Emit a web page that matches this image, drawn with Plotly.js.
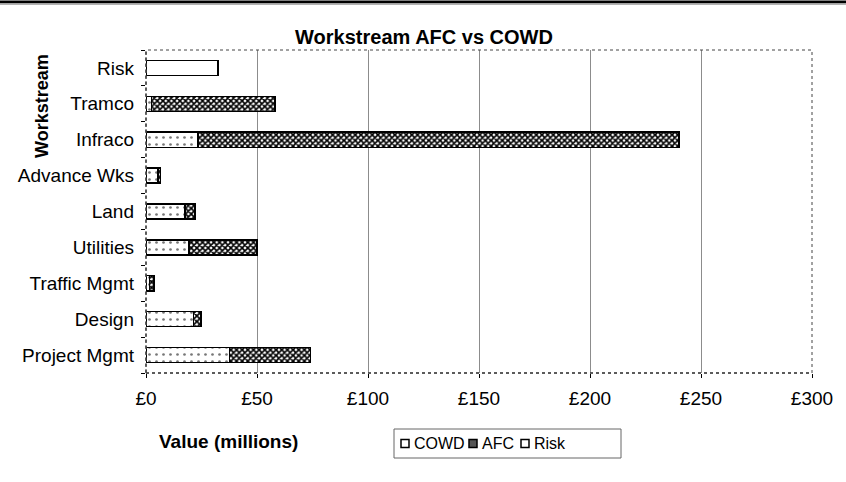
<!DOCTYPE html>
<html>
<head>
<meta charset="utf-8">
<script src="https://cdn.plot.ly/plotly-3.0.1.min.js"></script>
<style>html,body{margin:0;padding:0;background:#fff;}#chart{width:846px;height:482px;}</style>
</head>
<body>
<div id="chart"></div>
<script>
// Categories (bottom to top as drawn)
const categories = ["Project Mgmt", "Design", "Traffic Mgmt", "Utilities", "Land", "Advance Wks", "Infraco", "Tramco", "Risk"];
const cowd = [37.5, 21.3, 1.5, 19.4, 17.6, 5.5, 23.4, 2.5, 0];
const afc  = [36.5, 3.5, 2.0, 30.6, 4.4, 1.0, 216.6, 55.5, 0];
const risk = [0, 0, 0, 0, 0, 0, 0, 0, 32.4];
const seriesNames = ["COWD", "AFC", "Risk"];
const xTickVals = [0, 50, 100, 150, 200, 250, 300];
const xTickText = ["£0", "£50", "£100", "£150", "£200", "£250", "£300"];

const FONT = "Liberation Sans, Arial, Helvetica, sans-serif";
const line = {color: "#000", width: 1.5};

const traces = [
  {type: "bar", orientation: "h", name: seriesNames[0], y: categories, x: cowd,
   marker: {color: "#fff", line: line,
            pattern: {shape: ".", fgcolor: "#777", bgcolor: "#fff", size: 7, solidity: 0.12}}},
  {type: "bar", orientation: "h", name: seriesNames[1], y: categories, x: afc,
   marker: {color: "#fff", line: line,
            pattern: {shape: "x", fgcolor: "#000", bgcolor: "#fff", size: 4, solidity: 0.65}}},
  {type: "bar", orientation: "h", name: seriesNames[2], y: categories, x: risk,
   marker: {color: "#fff", line: line}}
];

// plot area in pixels: x 146..812, y 50..373
const PL = 146, PR = 812, PT = 50, PB = 373;
const px = v => (v - PL) / (PR - PL);
const py = v => (PB - v) / (PB - PT);

// manual legend
const legBox = {x0: 394, x1: 621, y0: 429, y1: 458};
const legItems = [
  {sx: 401, tx: 412, fill: "#fff"},
  {sx: 469, tx: 480, fill: "#555"},
  {sx: 521, tx: 532, fill: "#fff"}
];
const legCy = 443.5;

const shapes = [
  {type: "rect", xref: "paper", yref: "paper", x0: 0, x1: 1, y0: 0, y1: 1,
   line: {color: "#444", width: 1, dash: "dot"}, layer: "above"},
  {type: "line", xref: "paper", yref: "paper", x0: 0, x1: 1, y0: 0, y1: 0,
   line: {color: "#444", width: 1.5, dash: "dot"}, layer: "above"},
  {type: "line", xref: "paper", yref: "paper", x0: 0, x1: 0, y0: 0, y1: 1,
   line: {color: "#444", width: 1.5, dash: "dot"}, layer: "above"},
  {type: "rect", xref: "paper", yref: "paper", x0: px(0), x1: px(846),
   y0: py(3.3), y1: py(0.5), fillcolor: "#000", line: {width: 0}},
  {type: "rect", xref: "paper", yref: "paper", x0: px(0), x1: px(846),
   y0: py(4.8), y1: py(3.3), fillcolor: "#999", line: {width: 0}},
  {type: "rect", xref: "paper", yref: "paper", x0: px(legBox.x0), x1: px(legBox.x1),
   y0: py(legBox.y1), y1: py(legBox.y0), fillcolor: "#fff", line: {color: "#666", width: 1}}
];
const annotations = [
  {text: "<b>Workstream</b>", xref: "paper", yref: "paper",
   x: px(42), y: py(106), xanchor: "center", yanchor: "middle",
   textangle: -90, showarrow: false, font: {family: FONT, size: 18, color: "#000"}},
  {text: "<b>Value (millions)</b>", xref: "paper", yref: "paper",
   x: px(228), y: py(441), xanchor: "center", yanchor: "middle",
   showarrow: false, font: {family: FONT, size: 19, color: "#000"}}
];
legItems.forEach((it, i) => {
  shapes.push({type: "rect", xref: "paper", yref: "paper",
    x0: px(it.sx), x1: px(it.sx + 8), y0: py(legCy + 4), y1: py(legCy - 4),
    fillcolor: it.fill, line: {color: "#000", width: 1.5}});
  annotations.push({text: seriesNames[i], xref: "paper", yref: "paper",
    x: px(it.tx), y: py(legCy), xanchor: "left", yanchor: "middle",
    showarrow: false, font: {family: FONT, size: 16, color: "#000"}});
});

const layout = {
  width: 846, height: 482,
  paper_bgcolor: "#fff", plot_bgcolor: "#fff",
  font: {family: FONT, size: 19, color: "#000"},
  margin: {l: PL, r: 846 - PR, t: PT, b: 482 - PB},
  barmode: "stack",
  bargap: 0.58,
  showlegend: false,
  title: {text: "<b>Workstream AFC vs COWD</b>", font: {family: FONT, size: 20, color: "#000"},
          x: 424/846, xanchor: "center", y: 1 - 37/482, yanchor: "middle", xref: "container", yref: "container"},
  xaxis: {
    range: [0, 300], tickvals: xTickVals, ticktext: xTickText,
    showgrid: true, gridcolor: "#8c8c8c", gridwidth: 1,
    zeroline: false, showline: false,
    ticks: "outside", ticklen: 4, tickcolor: "#000", ticklabelstandoff: 4,
    tickfont: {family: FONT, size: 19, color: "#000"},
    fixedrange: true
  },
  yaxis: {
    type: "category", categoryorder: "array", categoryarray: categories,
    showgrid: false, zeroline: false, showline: false,
    ticks: "outside", ticklen: 4, tickcolor: "#000", tickson: "boundaries",
    ticklabelstandoff: 11,
    tickfont: {family: FONT, size: 19, color: "#000"},
    fixedrange: true
  },
  shapes: shapes,
  annotations: annotations
};

Plotly.newPlot("chart", traces, layout, {displayModeBar: false, staticPlot: true});
</script>
</body>
</html>
